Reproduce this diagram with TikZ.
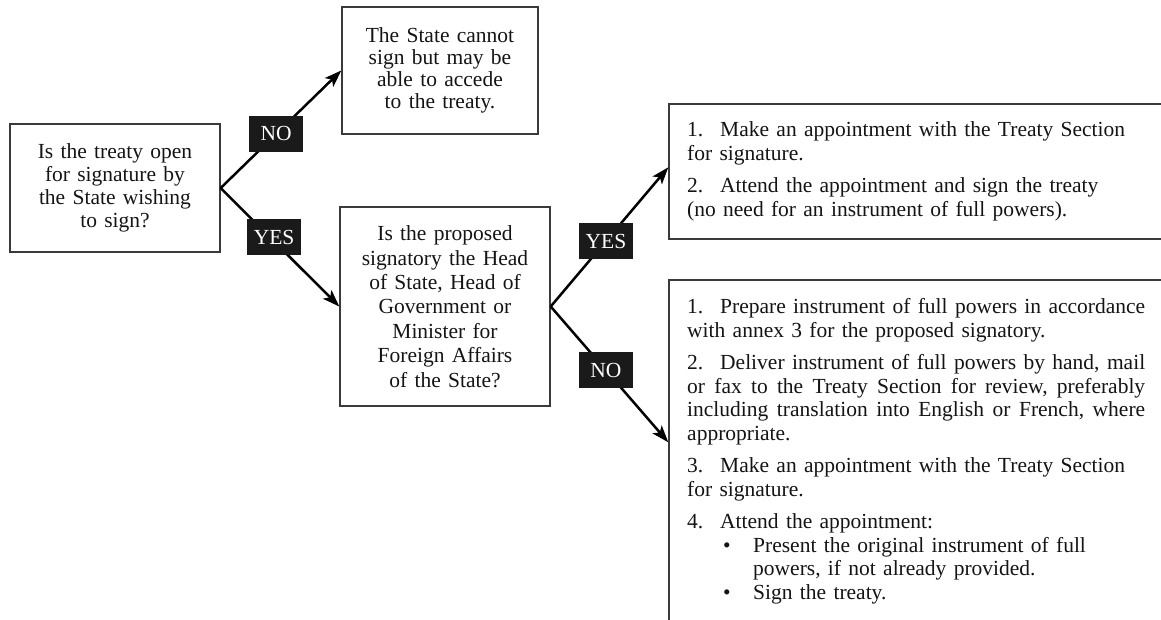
\documentclass[tikz,border=0pt]{standalone}
\usepackage{fontspec}
\setmainfont{Liberation Serif}
\usetikzlibrary{arrows.meta,calc}

\definecolor{boxgray}{HTML}{3A3A3A}
\definecolor{tagblack}{HTML}{1A1A1A}
\definecolor{ink}{HTML}{141414}

% text setting: size 21.5pt, leading given as argument
\newcommand\diagfont[1]{\fontsize{21.5}{#1}\selectfont\frenchspacing\spaceskip=0.34em plus 0.6em minus 0.06em\relax}
% number of a step, followed by a fixed gap
\newcommand\stepno[1]{\makebox[33pt][l]{#1}}
% a line spread to the full measure of the step boxes
\newcommand\justline[1]{\makebox[458pt][s]{#1}}
% bullet entry under a step
\newcommand\bulletitem{\hspace*{36pt}\makebox[30pt][l]{\textbullet}}

\begin{document}
\begin{tikzpicture}[x=1pt,y=-1pt,
  box/.style={draw=boxgray, line width=1.4pt, inner sep=0pt, text=ink, align=center},
  tag/.style={fill=tagblack, text=white, minimum width=54pt, minimum height=36pt,
              inner sep=0pt, font=\diagfont{23}},
  arr/.style={draw=black, line width=2.5pt, -{Stealth[length=17pt,width=12pt,inset=4pt]}},
  steps/.style={anchor=north west, inner sep=0pt, align=left, text=ink, font=\diagfont{23.5}},
]
\clip (0,0) rectangle (1161,619);

% question and outcome boxes
\node[box, minimum width=210pt, minimum height=128pt, font=\diagfont{23}] (q1) at (115,188)
  {Is the treaty open\\for signature by\\the State wishing\\to sign?};
\node[box, minimum width=196pt, minimum height=127pt, font=\diagfont{21.8}] (cant) at (440,70.5)
  {The State cannot\\sign but may be\\able to accede\\to the treaty.};
\node[box, minimum width=210pt, minimum height=199pt, font=\diagfont{24.4}] (q2) at (445,306.5)
  {Is the proposed\\signatory the Head\\of State, Head of\\Government or\\Minister for\\Foreign Affairs\\of the State?};

% step boxes running off the right and bottom edges
\node[box, minimum width=531pt, minimum height=135pt] (tr) at (934.5,171.5) {};
\node[box, minimum width=531pt, minimum height=420pt] (br) at (934.5,490) {};

\node[steps] (trtext) at (687,121.5) {%
\stepno{1.}Make an appointment with the Treaty Section\\
for signature.\\[9pt]
\stepno{2.}Attend the appointment and sign the treaty\\
(no need for an instrument of full powers).};

\node[steps] (brtext) at (687,298.5) {%
\justline{\stepno{1.}Prepare instrument of full powers in accordance}\\
with annex 3 for the proposed signatory.\\[9pt]
\justline{\stepno{2.}Deliver instrument of full powers by hand, mail}\\
\justline{or fax to the Treaty Section for review, preferably}\\
\justline{including translation into English or French, where}\\
appropriate.\\[9pt]
\stepno{3.}Make an appointment with the Treaty Section\\
for signature.\\[9pt]
\stepno{4.}Attend the appointment:\\
\bulletitem Present the original instrument of full\\
\hspace*{66pt}powers, if not already provided.\\
\bulletitem Sign the treaty.};

% decision connectors
\draw[arr] (q1.east) -- node[tag, pos=0.46] {NO} (cant.west);
\draw[arr] (q1.east) -- node[tag, pos=0.45, yshift=4pt] {YES} (q2.west);
\draw[arr] (q2.east) -- node[tag, pos=0.47] {YES} ($(tr.north west)+(0,64)$);
\draw[arr] (q2.east) -- node[tag, pos=0.47] {NO} ($(br.north west)+(0,163)$);
\end{tikzpicture}
\end{document}
